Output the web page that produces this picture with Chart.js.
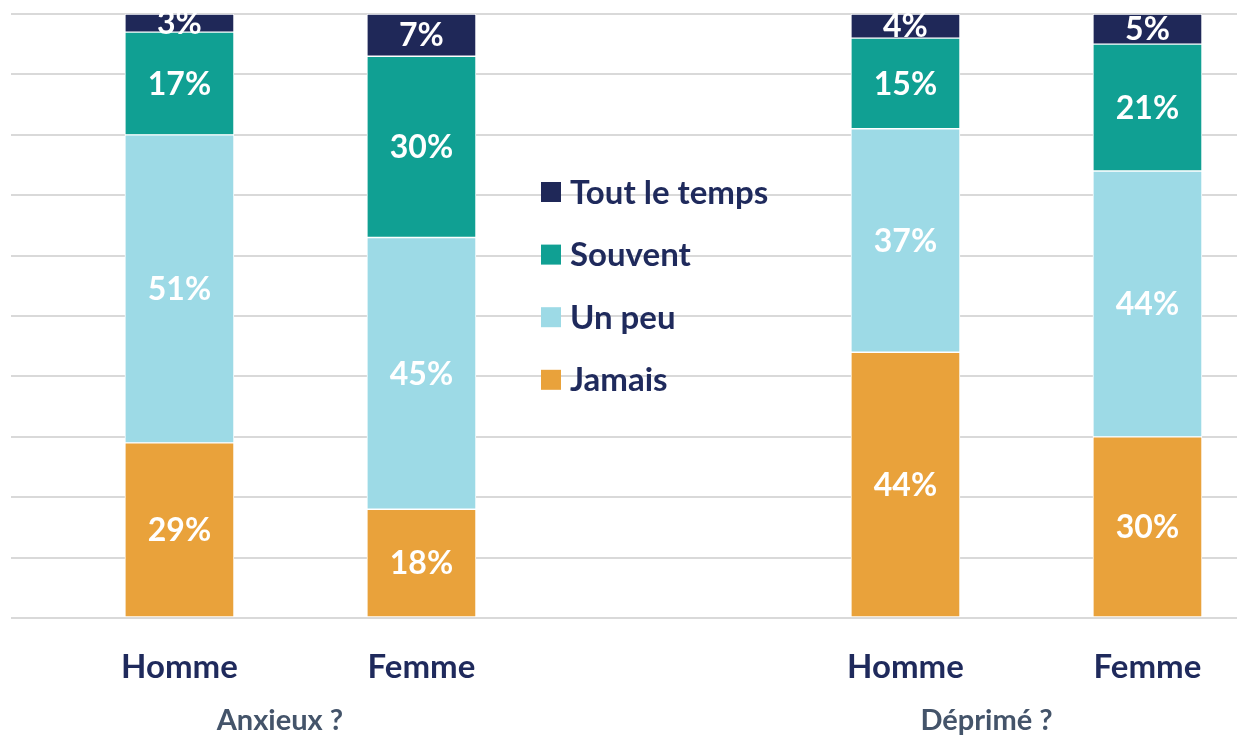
<!DOCTYPE html>
<html lang="fr">
<head>
<meta charset="utf-8">
<title>Anxieux / Déprimé</title>
<script src="https://cdn.jsdelivr.net/npm/chart.js@4/dist/chart.umd.min.js"></script>
<style>
  html, body { margin: 0; padding: 0; background: #fff; }
  #wrap { width: 1237px; height: 751px; }
</style>
</head>
<body>
<div id="wrap"><canvas id="graphique" width="1237" height="751"></canvas></div>
<script>
// Catégories (position de chaque barre sur l'axe, 2 = emplacement vide pour la légende)
const sexes = ['Homme', 'Femme', 'Homme', 'Femme'];
const positions = [0, 1, 3, 4];
const groupes = ['Anxieux ?', 'Déprimé ?'];
const positionsGroupes = [0.415, 3.335];

// Séries en %
const jamais = [29, 18, 44, 30];
const unPeu = [51, 45, 37, 44];
const souvent = [17, 30, 15, 21];
const toutLeTemps = [3, 7, 4, 5];

const graduationsY = [0, 10, 20, 30, 40, 50, 60, 70, 80, 90, 100];

const bleuNuit = '#1F2858';
const couleurTexte = '#1F2A5C';
const police = 'Lato, "Open Sans", sans-serif';

function serie(label, valeurs, couleur) {
  return {
    label: label,
    data: valeurs.map((v, i) => ({ x: positions[i], y: v })),
    backgroundColor: couleur,
    borderColor: '#ffffff',
    borderWidth: 1,
    borderSkipped: false,
    barThickness: 109
  };
}

// Étiquettes blanches au milieu de chaque segment
const etiquettes = {
  id: 'etiquettes',
  afterDatasetsDraw(chart) {
    const c = chart.ctx;
    c.save();
    c.fillStyle = '#ffffff';
    c.font = 'bold 32px ' + police;
    c.textAlign = 'center';
    c.textBaseline = 'middle';
    chart.data.datasets.forEach((ds, d) => {
      chart.getDatasetMeta(d).data.forEach((barre, i) => {
        const p = barre.getProps(['x', 'y', 'base'], true);
        c.fillText(ds.data[i].y + '%', p.x, (p.y + p.base) / 2 + 1);
      });
    });
    c.restore();
  }
};

// Légende dans l'espace vide du milieu + titres des groupes
const legendeEtGroupes = {
  id: 'legendeEtGroupes',
  afterDraw(chart) {
    const c = chart.ctx;
    c.save();
    c.textBaseline = 'middle';
    c.textAlign = 'left';
    c.font = 'bold 33px ' + police;
    const ds = chart.data.datasets.slice().reverse();
    ds.forEach((s, k) => {
      const y = 192 + k * 62.6;
      c.fillStyle = s.backgroundColor;
      c.fillRect(541, y - 10, 20, 20);
      c.fillStyle = couleurTexte;
      c.fillText(s.label, 570, y + 1);
    });

    const x = chart.scales.x;
    c.textAlign = 'center';
    c.font = 'bold 29px ' + police;
    c.fillStyle = '#44546A';
    groupes.forEach((g, i) => {
      c.fillText(g, x.getPixelForValue(positionsGroupes[i]), 721);
    });
    c.restore();
  }
};

function dessiner() {
  new Chart(document.getElementById('graphique'), {
    type: 'bar',
    data: {
      datasets: [
        serie('Jamais', jamais, '#E9A23B'),
        serie('Un peu', unPeu, '#9DDAE6'),
        serie('Souvent', souvent, '#10A093'),
        serie('Tout le temps', toutLeTemps, bleuNuit)
      ]
    },
    options: {
      responsive: false,
      animation: false,
      layout: { padding: { top: 14, right: 0, left: 0, bottom: 0 } },
      plugins: {
        legend: { display: false },
        tooltip: { enabled: false }
      },
      scales: {
        x: {
          type: 'linear',
          stacked: true,
          offset: false,
          min: -0.696,
          max: 4.37,
          grid: { display: false, drawTicks: false },
          border: { display: false },
          afterBuildTicks: (axe) => { axe.ticks = positions.map(v => ({ value: v })); },
          afterFit: (axe) => { axe.height = 133; },
          ticks: {
            padding: 30,
            autoSkip: false,
            maxRotation: 0,
            color: couleurTexte,
            font: { family: police, size: 33, weight: 'bold' },
            callback: (v) => sexes[positions.indexOf(v)] || ''
          }
        },
        y: {
          stacked: true,
          min: 0,
          max: 100,
          afterBuildTicks: (axe) => { axe.ticks = graduationsY.map(v => ({ value: v })); },
          afterFit: (axe) => { axe.width = 11; },
          grid: { color: '#D9D9D9', lineWidth: 2, drawTicks: false },
          border: { display: false },
          ticks: { display: false }
        }
      }
    },
    plugins: [etiquettes, legendeEtGroupes]
  });
}

document.fonts.load('bold 31px Lato').then(dessiner, dessiner);
</script>
</body>
</html>
